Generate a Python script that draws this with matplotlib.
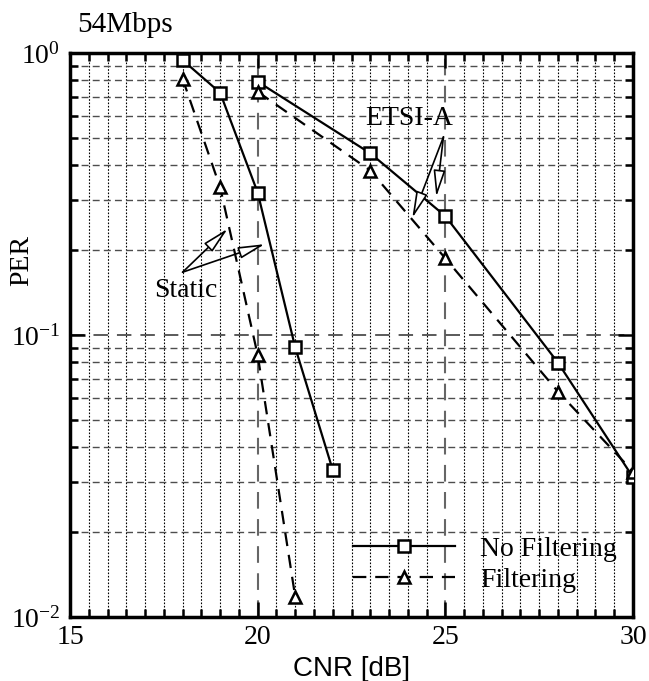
import matplotlib
matplotlib.use("Agg")
import matplotlib.pyplot as plt
from matplotlib.ticker import FixedLocator, LogLocator, NullFormatter, FixedFormatter

plt.rcParams['font.family'] = ['Liberation Serif', 'DejaVu Serif']
plt.rcParams['mathtext.fontset'] = 'custom'
plt.rcParams['mathtext.rm'] = 'Liberation Serif'
plt.rcParams['mathtext.it'] = 'Liberation Serif:italic'

# Data
static_x_nf = [18, 19, 20, 21, 22]
static_y_nf = [0.944, 0.723, 0.32, 0.0904, 0.0332]
static_x_f = [18, 19, 20, 21]
static_y_f = [0.81, 0.334, 0.085, 0.0118]
etsi_x_nf = [20, 23, 25, 28, 30]
etsi_y_nf = [0.791, 0.441, 0.264, 0.0798, 0.0313]
etsi_x_f = [20, 23, 25, 28, 30]
etsi_y_f = [0.729, 0.383, 0.187, 0.063, 0.0328]
x_ticks = [15, 20, 25, 30]
y_ticks = [1e-2, 1e-1, 1e0]
y_tick_labels = [r'$\mathregular{10^{-2}}$', r'$\mathregular{10^{-1}}$', r'$\mathregular{10^{0}}$']
legend_labels = ['No Filtering', 'Filtering']

fig = plt.figure(figsize=(6.49, 6.81), dpi=100)
ax = fig.add_axes([70/649, 1-617/681, 563/649, 564/681])

ax.set_yscale('log')
ax.set_xlim(15, 30)
ax.set_ylim(1e-2, 1)

# grids
for xv in [15.5 + 0.5*i for i in range(29)]:
    if xv in (20, 25, 30):
        continue
    ax.axvline(xv, color='black', lw=0.8, ls=(0, (1.5, 1.5)), zorder=1)
for xv in [20, 25]:
    ax.axvline(xv, color='0.4', lw=1.5, ls=(0, (8, 5)), zorder=1)
for dec in [1e-2, 1e-1]:
    for m in range(2, 10):
        ax.axhline(dec*m, color='0.3', lw=1.0, ls=(0, (5, 3)), zorder=1)
ax.axhline(1e-1, color='0.3', lw=1.3, ls=(0, (8, 5)), zorder=1)

ms = 8
mew = 1.8
lw = 1.6
l1, = ax.plot(static_x_nf, static_y_nf, '-', color='black', lw=lw, marker='s', ms=ms,
              mfc='white', mec='black', mew=mew, zorder=3)
ax.plot(etsi_x_nf, etsi_y_nf, '-', color='black', lw=lw, marker='s', ms=ms,
        mfc='white', mec='black', mew=mew, zorder=3)
l2, = ax.plot(static_x_f, static_y_f, color='black', lw=lw, ls=(0, (6, 4)), marker='^', ms=ms,
              mfc='white', mec='black', mew=mew, zorder=3)
ax.plot(etsi_x_f, etsi_y_f, color='black', lw=lw, ls=(0, (6, 4)), marker='^', ms=ms,
        mfc='white', mec='black', mew=mew, zorder=3)

ax.xaxis.set_major_locator(FixedLocator(x_ticks))
ax.xaxis.set_minor_locator(FixedLocator([15 + 0.5*i for i in range(31)]))
ax.yaxis.set_major_locator(FixedLocator(y_ticks))
ax.yaxis.set_major_formatter(FixedFormatter(y_tick_labels))
ax.yaxis.set_minor_locator(LogLocator(base=10, subs=range(2, 10)))
ax.yaxis.set_minor_formatter(NullFormatter())
ax.tick_params(which='both', direction='in', top=True, right=True, width=1.8)
ax.tick_params(which='major', length=11, labelsize=20, pad=6)
ax.tick_params(axis='y', which='major', pad=7)
ax.tick_params(which='minor', length=6)
for s in ax.spines.values():
    s.set_linewidth(2.5)

ax.set_xlabel('CNR [dB]', family=['Liberation Sans', 'DejaVu Sans'], fontsize=20, labelpad=4)
ax.set_ylabel('PER', fontsize=20)
ax.yaxis.label.set_va('center')
ax.yaxis.set_label_coords((22-70)/563, (617-260)/564)

fig.text(77/649, 1-25/681, '54Mbps', fontsize=21, ha='left', va='center')

ap = dict(arrowstyle='-|>,head_length=0.9,head_width=0.2', fc='white', ec='black', lw=1.2,
          mutation_scale=18, shrinkA=0, shrinkB=0)
ax.text(24.04, 0.588, 'ETSI-A', fontsize=20, ha='center', va='center', zorder=4)
ax.annotate('', xy=(24.76, 0.309), xytext=(24.95, 0.504), arrowprops=ap, zorder=4)
ax.annotate('', xy=(24.12, 0.26), xytext=(24.95, 0.504), arrowprops=ap, zorder=4)
ax.text(18.09, 0.144, 'Static', fontsize=20, ha='center', va='center', zorder=4)
ax.annotate('', xy=(19.2, 0.238), xytext=(18.0, 0.167), arrowprops=ap, zorder=4)
ax.annotate('', xy=(20.19, 0.21), xytext=(18.0, 0.167), arrowprops=ap, zorder=4)

leg = ax.legend([l1, l2], legend_labels, loc='center left', bbox_to_anchor=(0.5027, 0.093),
                frameon=False, fontsize=20, handlelength=3.67, handletextpad=0.9,
                labelspacing=0.2, borderpad=0, borderaxespad=0)

fig.savefig('out.png', dpi=100)
